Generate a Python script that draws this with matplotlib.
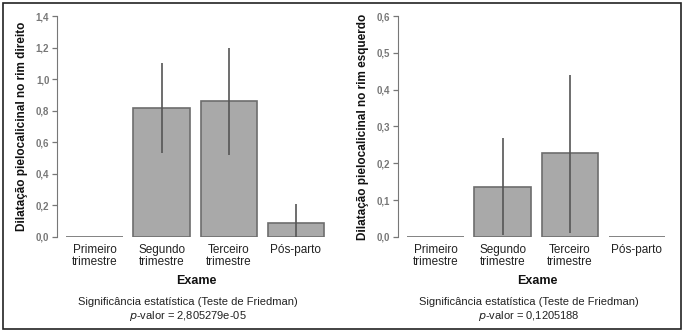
import matplotlib.pyplot as plt
from matplotlib.patches import Rectangle

# Data
categorias = ['Primeiro\ntrimestre', 'Segundo\ntrimestre', 'Terceiro\ntrimestre', 'Pós-parto']
direito = [0.0, 0.82, 0.86, 0.09]
direito_lo = [0.0, 0.53, 0.52, 0.0]
direito_hi = [0.0, 1.10, 1.20, 0.21]
esquerdo = [0.0, 0.135, 0.227, 0.0]
esquerdo_lo = [0.0, 0.005, 0.012, 0.0]
esquerdo_hi = [0.0, 0.27, 0.44, 0.0]
yticks_dir = [0.0, 0.2, 0.4, 0.6, 0.8, 1.0, 1.2, 1.4]
yticks_esq = [0.0, 0.1, 0.2, 0.3, 0.4, 0.5, 0.6]
pvalores = ['2,805279e-05', '0,1205188']
ylabels = ['Dilatação pielocalicinal no rim direito', 'Dilatação pielocalicinal no rim esquerdo']

plt.rcParams['font.family'] = ['Liberation Sans Narrow', 'Liberation Sans', 'DejaVu Sans']

W, H = 685, 333
fig = plt.figure(figsize=(W / 100, H / 100), dpi=100)
fig.patches.append(Rectangle((3 / W, 4 / H), 678 / W, 326 / H, transform=fig.transFigure,
                             fill=False, edgecolor='#222222', linewidth=1.2))


def painel(left_px, valores, lo, hi, yticks, ylabel, pval):
    ax = fig.add_axes([left_px / W, 96 / H, 279 / W, 221 / H])
    x = range(len(categorias))
    ax.bar(x, valores, width=0.84, color='#a9a9a9', edgecolor='#6d6d6d', linewidth=1.2)
    ax.vlines([i for i in x if hi[i] > 0], [lo[i] for i in x if hi[i] > 0],
              [hi[i] for i in x if hi[i] > 0], color='#555555', linewidth=1.2)
    ax.set_xlim(-0.56, 3.6)
    ax.set_ylim(yticks[0], yticks[-1])
    ax.set_yticks(yticks)
    ax.set_yticklabels([f'{t:.1f}'.replace('.', ',') for t in yticks],
                       fontsize=7, fontweight='bold', color='#777777')
    ax.set_xticks(list(x))
    ax.set_xticklabels(categorias, fontsize=8.5, color='#222222', linespacing=1.05)
    ax.tick_params(axis='x', length=0, pad=5)
    ax.tick_params(axis='y', length=3.5, color='#777777', width=0.9, pad=2)
    for s in ['top', 'right', 'bottom']:
        ax.spines[s].set_visible(False)
    ax.spines['left'].set_color('#777777')
    ax.spines['left'].set_bounds(yticks[0], yticks[-1])
    ax.set_ylabel(ylabel, fontsize=8.5, fontweight='bold', color='#111111', labelpad=6)
    ax.set_xlabel('Exame', fontsize=9, fontweight='bold', color='#111111', labelpad=5)
    cx = (left_px + 131) / W
    fig.text(cx, 1 - 302 / H, 'Significância estatística (Teste de Friedman)',
             ha='center', va='center', fontsize=8, color='#222222')
    fig.text(cx, 1 - 316 / H, '$\\it{p}$-valor = ' + pval, ha='center', va='center',
             fontsize=8, color='#222222')
    return ax


painel(57, direito, direito_lo, direito_hi, yticks_dir, ylabels[0], pvalores[0])
painel(398, esquerdo, esquerdo_lo, esquerdo_hi, yticks_esq, ylabels[1], pvalores[1])

fig.savefig('out.png', dpi=100)
